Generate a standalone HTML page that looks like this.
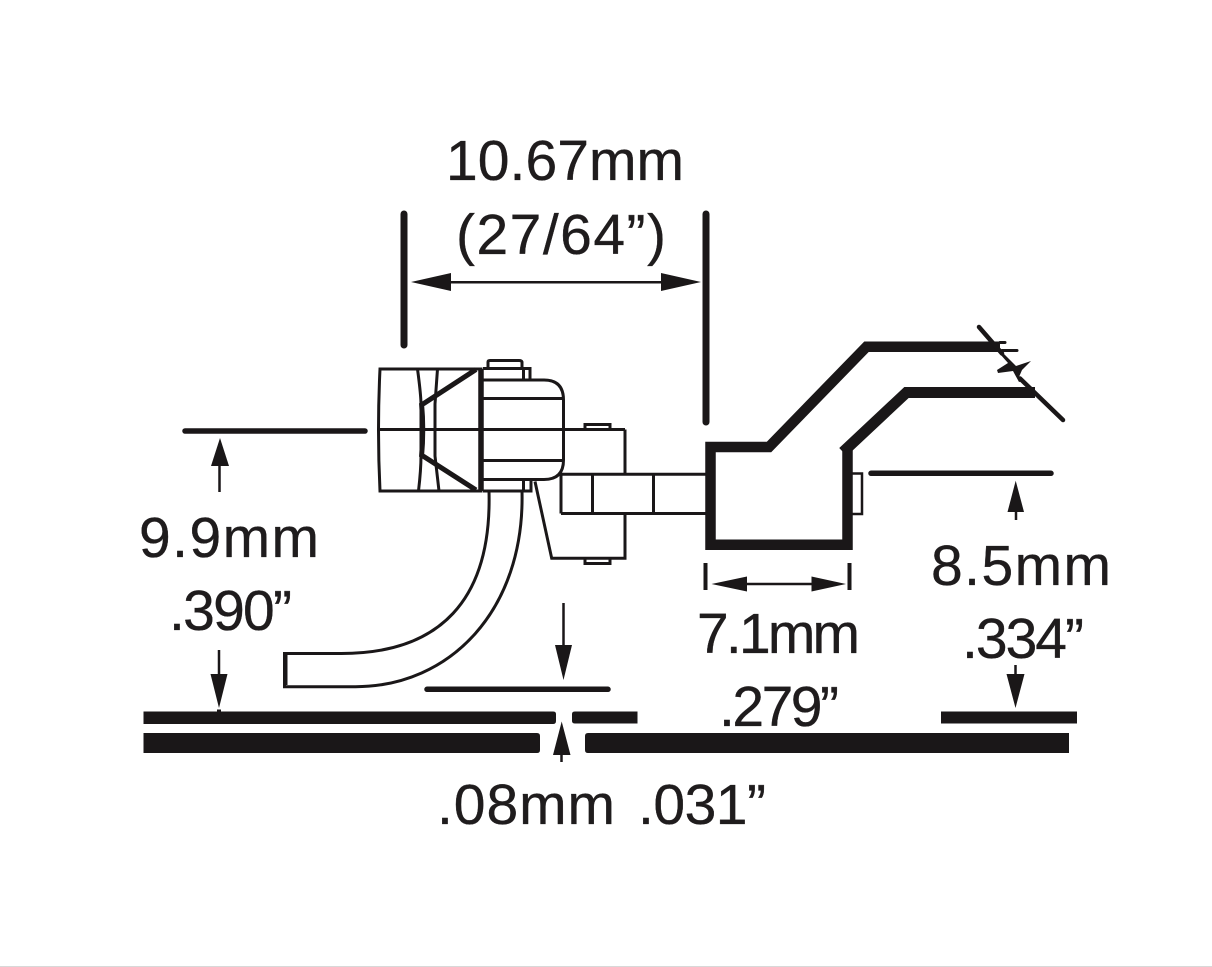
<!DOCTYPE html>
<html><head><meta charset="utf-8"><style>
html,body{margin:0;padding:0;background:#fff}
svg{display:block}
text{font-family:"Liberation Sans",sans-serif;font-size:57px;fill:#1f1c1d;stroke:#1f1c1d;stroke-width:.35}
</style></head><body>
<svg width="1212" height="967" viewBox="0 0 1212 967" xmlns="http://www.w3.org/2000/svg">
<rect width="1212" height="967" fill="#fff"/>
<rect y="966" width="1212" height="1" fill="#d8d8d8"/>
<g fill="none" stroke="#1a1718" stroke-linejoin="miter">
<!-- dimension bars -->
<path d="M404 214V345M706 214V422" stroke-width="7" stroke-linecap="round"/>
<path d="M185 431H365M871 473.3H1051M427 689.3H608" stroke-width="5.5" stroke-linecap="round"/>
<!-- coupler head -->
<g stroke-width="3">
<path d="M380 369H481V491H380Q377 430 380 369Z"/>
<path d="M379 429.5H625"/>
<path d="M417.5 369Q421 395 421 405V455Q421 470 418.5 491"/>
<path d="M437.5 369L435 404V456L439 491"/>
<path d="M483 380H544Q563.5 380 563.5 400V460Q563.5 479.5 544 479.5H483"/>
<path d="M483 398.5H563M483 460.5H563"/>
<path d="M483 368.5H530V380M483 491H531V480M523.5 368.5V380M523.5 491V480"/>
<path d="M488 368V362Q488 360.5 490 360.5H519Q521.5 360.5 522 362V368"/>
<path d="M625 429.5V474M625 513V558.3H551.7L535 481.5"/>
<path d="M585 429V424.5H610V429M585 558V563.5H610V558"/>
<path d="M561 474.3H707M561 513.5H707M561 474.3V513.5M592.5 474.3V513.5M653.5 474.3V513.5"/>
</g>
<path d="M852 473.5H862V514H852" stroke-width="2.5"/>
<!-- thick head parts -->
<path d="M423 404L476 369.5" stroke-width="5"/>
<path d="M423 456L476 490" stroke-width="5"/>
<path d="M421.5 403Q424 430 421.5 457" stroke-width="5"/>
<path d="M481 369V491" stroke-width="5.5"/>
<!-- trip pin -->
<path d="M489 491C492 600 440 654 340 653.5H284.5V686.7H355C450 687 525 610 522 491" stroke-width="3"/>
<path d="M285.5 655V685" stroke-width="4"/>
<!-- box body -->
<path d="M843 452L906.5 392.5H1035" stroke-width="11"/>
<path d="M847.5 447V544.7H710.5V447H769L866.5 346.7H1000" stroke-width="10.5"/>
<path d="M979 327L1002 353.5M1020 378.5L1063 420" stroke-width="4.5" stroke-linecap="round"/>
<path d="M1000 342.5H1005M1002 350.5H1017" stroke-width="3" stroke-linecap="round"/>
<!-- small dim -->
<path d="M705.5 563V590M849.5 563V590" stroke-width="4"/>
<path d="M740 584H822M219.5 462V492M219 650V680M1016 500V520M563.5 603V650M1015.5 665V685M561.5 745V762" stroke-width="2.5"/>
</g>
<!-- rails -->
<g fill="#1a1718">
<path d="M1002 352L1012 362L1016 366L1031 361L1022 370L1019 377L1023 381L1019 382L1013 371L998 373L997 370L1008 363L1000 354Z"/>
<path d="M143.5 711.5H553Q556 711.5 556 714V721Q556 724 553 724H143.5Z"/>
<path d="M572 714Q572 711.5 575 711.5H637.5V723.5H575Q572 723.5 572 721Z"/>
<path d="M143.5 733H537Q540 733 540 736V750Q540 753 537 753H143.5Z"/>
<path d="M585 736Q585 733 588 733H1069V753H588Q585 753 585 750Z"/>
<rect x="941" y="711.5" width="136" height="12"/>
<rect x="217" y="709.5" width="4" height="3"/>
<!-- arrowheads -->
<path d="M411 282L451 273V291Z"/>
<path d="M701 282L661 273V291Z"/>
<rect x="445" y="281" width="222" height="2.5"/>
<path d="M711.5 584L747 576.5V591.5Z"/>
<path d="M846 584L811.5 576.5V591.5Z"/>
<path d="M220 438L229 466H211Z"/>
<path d="M219 708L210.5 674H227.5Z"/>
<path d="M1015.7 480.7L1024 512H1007.5Z"/>
<path d="M563.5 680L555 645H572Z"/>
<path d="M1015.5 708L1006.5 674H1024.5Z"/>
<path d="M561.7 721.5L570.5 755H553Z"/>
</g>
<!-- labels -->
<text x="446" y="180" textLength="238">10.67mm</text>
<text x="456" y="254" textLength="210">(27/64”)</text>
<text x="139" y="557" textLength="180">9.9mm</text>
<text x="169" y="630" textLength="123">.390”</text>
<text x="931" y="585" textLength="180">8.5mm</text>
<text x="962" y="658" textLength="122">.334”</text>
<text x="697" y="653" textLength="163">7.1mm</text>
<text x="719" y="726" textLength="120">.279”</text>
<text x="437" y="824" textLength="178">.08mm</text>
<text x="638" y="824" textLength="128">.031”</text>
</svg>
</body></html>
